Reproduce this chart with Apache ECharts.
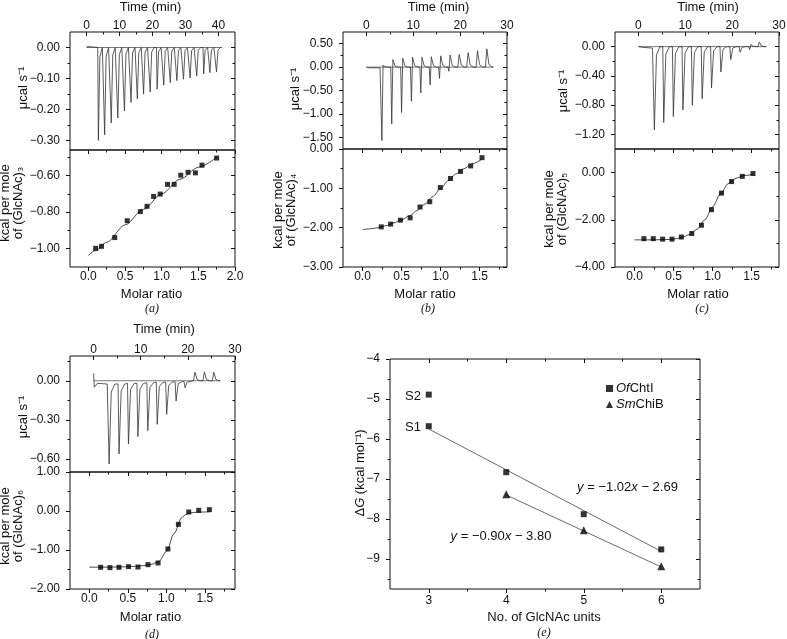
<!DOCTYPE html>
<html><head><meta charset="utf-8">
<script src="https://cdn.jsdelivr.net/npm/echarts@6/dist/echarts.min.js"></script>
<style>html,body{margin:0;padding:0;background:#fff}#c{width:787px;height:639px}</style>
</head><body><div id="c"></div>
<script>
// ================= DATA =================
// (a) (GlcNAc)3 : raw heat-flow injections
const aInjTime = [3.4,5.3,7.3,9.3,11.3,13.3,15.2,17.1,19.1,21.2,23.2,25.2,27.2,29.2,31.2,33.2,35.3,37.2,39.2];
const aInjPeak = [-0.299,-0.281,-0.243,-0.227,-0.204,-0.177,-0.165,-0.150,-0.143,-0.134,-0.121,-0.113,-0.107,-0.102,-0.098,-0.092,-0.085,-0.081,-0.079];
const aTraceStart = [[0,0.002],[0.4,-0.002],[0.8,0.003],[1.2,-0.001],[1.6,0.002],[2.0,-0.001],[2.6,0.001]];
const aTraceEnd = 41;
// (a) integrated heats
const aRatio = [0.10,0.18,0.36,0.53,0.71,0.80,0.89,0.98,1.08,1.17,1.26,1.36,1.46,1.55,1.75];
const aHeat  = [-0.998,-0.987,-0.939,-0.847,-0.797,-0.768,-0.714,-0.701,-0.648,-0.648,-0.598,-0.582,-0.585,-0.543,-0.504];
const aFitRatio = [0.0,0.1,0.25,0.5,0.75,1.0,1.25,1.5,1.75];
const aFitHeat  = [-1.037,-1.01,-0.965,-0.87,-0.785,-0.70,-0.62,-0.555,-0.50];

// (b) (GlcNAc)4
const bInjTime = [3.1,5.2,7.3,9.4,11.4,13.4,15.4,17.4,19.5,21.4,23.4,25.4];
const bInjDown = [-1.57,-1.21,-0.97,-0.73,-0.55,-0.38,-0.24,-0.09,0,0,0,0];
const bInjUp   = [0.04,0.16,0.19,0.21,0.21,0.22,0.24,0.26,0.27,0.31,0.35,0.39];
const bTraceStart = [[0,0],[0.6,-0.015],[2.9,-0.015]];
const bTraceEnd = 27.1;
const bRatio = [0.24,0.36,0.485,0.61,0.736,0.861,0.996,1.126,1.255,1.385,1.53];
const bHeat  = [-1.98,-1.91,-1.81,-1.75,-1.475,-1.34,-0.98,-0.75,-0.57,-0.43,-0.22];
const bFitRatio = [0.0,0.1,0.2,0.3,0.4,0.5,0.6,0.7,0.8,0.9,1.0,1.1,1.2,1.3,1.4,1.52];
const bFitHeat  = [-2.05,-2.03,-2.00,-1.95,-1.88,-1.80,-1.70,-1.56,-1.40,-1.21,-1.00,-0.80,-0.63,-0.50,-0.38,-0.27];

// (c) (GlcNAc)5
const cInjTime = [3.2,5.2,7.25,9.3,11.3,13.4,15.4,17.4,19.5,21.5,23.55,25.5];
const cInjDown = [-1.138,-1.038,-0.955,-0.864,-0.80,-0.713,-0.567,-0.347,-0.178,-0.078,-0.04,0];
const cInjUp   = [0,0,0,0,0,0,0,0,0,0,0.03,0.064];
const cTraceStart = [[0,0],[1.0,-0.01],[3.0,-0.02]];
const cTraceEnd = 27.3;
const cRatio = [0.12,0.24,0.36,0.48,0.60,0.733,0.857,0.986,1.114,1.243,1.38,1.517];
const cHeat  = [-2.80,-2.80,-2.82,-2.82,-2.73,-2.58,-2.23,-1.57,-0.87,-0.38,-0.16,-0.04];
const cFitRatio = [0.0,0.2,0.4,0.5,0.6,0.7,0.8,0.9,1.0,1.1,1.2,1.3,1.4,1.52];
const cFitHeat  = [-2.85,-2.85,-2.84,-2.82,-2.76,-2.63,-2.40,-2.00,-1.45,-0.90,-0.47,-0.24,-0.13,-0.07];

// (d) (GlcNAc)6
const dInjTime = [3.1,5.2,7.2,9.2,11.3,13.3,15.3,17.3,19.2,21.2,23.2,25.2];
const dInjDown = [-0.638,-0.562,-0.485,-0.429,-0.383,-0.334,-0.258,-0.156,-0.054,0,0,0];
const dInjUp   = [0,0,0,0,0,0,0,0,0,0.066,0.066,0.066];
const dBaseLevel = [-0.025,-0.025,-0.02,-0.02,-0.015,-0.012,-0.01,-0.008,-0.005,0,0,0];
const dTraceStart = [[0,0.056],[0.15,-0.05],[0.8,-0.02],[2.9,-0.025]];
const dTraceEnd = 26.9;
const dRatio = [0.147,0.268,0.385,0.51,0.632,0.762,0.892,1.02,1.156,1.29,1.42,1.558];
const dHeat  = [-1.444,-1.453,-1.444,-1.427,-1.436,-1.376,-1.333,-0.974,-0.342,-0.026,0.017,0.034];
const dFitRatio = [0.0,0.2,0.4,0.6,0.7,0.8,0.9,1.0,1.1,1.2,1.25,1.3,1.4,1.56];
const dFitHeat  = [-1.44,-1.44,-1.435,-1.42,-1.40,-1.37,-1.30,-1.04,-0.58,-0.17,-0.09,-0.05,-0.03,-0.02];

// (e) free energy vs chain length
const eUnitsOf = [3,3,4,5,6];
const eDeltaGOf = [-4.89,-5.68,-6.83,-7.88,-8.76];
const eUnitsSm = [4,5,6];
const eDeltaGSm = [-7.38,-8.28,-9.18];
const eFitOfX = [3,6], eFitOfY = [-5.75,-8.81];   // y = -1.02x - 2.69
const eFitSmX = [4,6], eFitSmY = [-7.40,-9.20];   // y = -0.90x - 3.80

// ================= TICKS =================
const timeTicksA = [0,10,20,30,40], timeMinorA = [5,15,25,35];
const timeTicks = [0,10,20,30], timeMinor = [5,15,25];
const ratioTicksA = [0,0.5,1.0,1.5,2.0], ratioMinorA = [0.25,0.75,1.25,1.75];
const ratioTicks = [0,0.5,1.0,1.5], ratioMinor = [0.25,0.75,1.25,1.75];
const aRawTicks = [0,-0.1,-0.2,-0.3], aRawMinor = [-0.05,-0.15,-0.25];
const aIntTicks = [-1.0,-0.8,-0.6], aIntMinor = [-0.9,-0.7,-0.5];
const bRawTicks = [0.5,0,-0.5,-1.0,-1.5], bRawMinor = [0.25,-0.25,-0.75,-1.25];
const bIntTicks = [0,-1,-2,-3], bIntMinor = [-0.5,-1.5,-2.5];
const cRawTicks = [0,-0.4,-0.8,-1.2], cRawMinor = [-0.2,-0.6,-1.0];
const cIntTicks = [0,-2,-4], cIntMinor = [-1,-3];
const dRawTicks = [0,-0.3,-0.6], dRawMinor = [0.15,-0.15,-0.45];
const dIntTicks = [1,0,-1,-2], dIntMinor = [0.5,-0.5,-1.5];
const eXTicks = [3,4,5,6], eXMinor = [3.5,4.5,5.5];
const eYTicks = [-4,-5,-6,-7,-8,-9], eYMinor = [-4.5,-5.5,-6.5,-7.5,-8.5,-9.5];

// ================= BUILD =================
const FONT = 'Liberation Sans, Arial, Helvetica, sans-serif';
const SERIF = 'Liberation Serif, Times New Roman, serif';
const INK = '#111';
function fmt(d){ return v => { if (Math.abs(v) < 1e-9) v = 0; return v.toFixed(d).replace('-', '\u2212'); }; }
function zip(xs, ys){ return xs.map((x,i)=>[x, ys[i]]); }
function buildTrace(start, times, down, up, base, end){
  const pts = start.map(p=>p.slice());
  let b = 0;
  for (let i=0;i<times.length;i++){
    const t = times[i]; b = base ? base[i] : 0;
    const d = down[i], u = up ? up[i] : 0;
    pts.push([t,b]);
    if (d && u) pts.push([t+0.2,d],[t+0.45,u],[t+0.9,b+0.15*u],[t+1.5,b]);
    else if (d) pts.push([t+0.2,d],[t+0.65,b+0.1*(d-b)],[t+1.4,b]);
    else if (u) pts.push([t+0.3,u],[t+0.75,b+0.15*u],[t+1.4,b]);
  }
  pts.push([end,b]);
  return pts;
}

const gridBoxes = [
  {left:70, top:32, width:165, height:118},
  {left:70, top:150, width:165, height:117},
  {left:343, top:32, width:164, height:117},
  {left:343, top:149, width:164, height:118},
  {left:615, top:32, width:164, height:117},
  {left:615, top:149, width:164, height:118},
  {left:70, top:356, width:165, height:116},
  {left:70, top:472, width:165, height:117},
  {left:390, top:359, width:310, height:230}
];
const grids = gridBoxes.map(b => Object.assign({show:true, borderColor:'#111', borderWidth:1, backgroundColor:'transparent', containLabel:false, outerBoundsMode:'none'}, b));

const xAxes = [], yAxes = [];
function ax(g, pos, min, max, ticks, inside, len, labelFmt, margin){
  return {
    type:'value', gridIndex:g, position:pos, min:min, max:max, silent:true,
    axisLine:{show:false, onZero:false},
    splitLine:{show:false}, minorTick:{show:false}, minorSplitLine:{show:false},
    axisTick:{show:true, inside:inside, length:len, customValues:ticks, lineStyle:{color:INK, width:1}},
    axisLabel: labelFmt ? {show:true, customValues:ticks, formatter:labelFmt, margin:margin, fontSize:12, fontFamily:FONT, color:INK} : {show:false}
  };
}
function addPanel(g, xs, ys, xPos, mirrorX, xMargin){
  const xi = xAxes.length;
  const xInside = xPos === 'top';
  xAxes.push(ax(g, xPos, xs.min, xs.max, xs.major, xInside, 4, xs.fmt, xMargin));
  xAxes.push(ax(g, xPos, xs.min, xs.max, xs.minor, xInside, 2.5, null, 0));
  if (mirrorX){
    xAxes.push(ax(g, 'top', xs.min, xs.max, xs.major, true, 4, null, 0));
    xAxes.push(ax(g, 'top', xs.min, xs.max, xs.minor, true, 2.5, null, 0));
  }
  const yi = yAxes.length;
  yAxes.push(ax(g, 'left', ys.min, ys.max, ys.major, false, 4, ys.fmt, 10));
  yAxes.push(ax(g, 'left', ys.min, ys.max, ys.minor, false, 2.5, null, 0));
  yAxes.push(ax(g, 'right', ys.min, ys.max, ys.major, true, 4, null, 0));
  yAxes.push(ax(g, 'right', ys.min, ys.max, ys.minor, true, 2.5, null, 0));
  return {xi, yi};
}

const P = [];
P[0] = addPanel(0, {min:-5,max:45,major:timeTicksA,minor:timeMinorA,fmt:fmt(0)}, {min:-0.33,max:0.05,major:aRawTicks,minor:aRawMinor,fmt:fmt(2)}, 'top', false, 0);
P[1] = addPanel(1, {min:-0.25,max:2.0,major:ratioTicksA,minor:ratioMinorA,fmt:fmt(1)}, {min:-1.10,max:-0.46,major:aIntTicks,minor:aIntMinor,fmt:fmt(2)}, 'bottom', true, 4);
P[2] = addPanel(2, {min:-5,max:30,major:timeTicks,minor:timeMinor,fmt:fmt(0)}, {min:-1.75,max:0.75,major:bRawTicks,minor:bRawMinor,fmt:fmt(2)}, 'top', false, 0);
P[3] = addPanel(3, {min:-0.25,max:1.85,major:ratioTicks,minor:ratioMinor,fmt:fmt(1)}, {min:-3,max:0,major:bIntTicks,minor:bIntMinor,fmt:fmt(2)}, 'bottom', true, 4);
P[4] = addPanel(4, {min:-5,max:30,major:timeTicks,minor:timeMinor,fmt:fmt(0)}, {min:-1.40,max:0.20,major:cRawTicks,minor:cRawMinor,fmt:fmt(2)}, 'top', false, 0);
P[5] = addPanel(5, {min:-0.25,max:1.85,major:ratioTicks,minor:ratioMinor,fmt:fmt(1)}, {min:-4,max:1,major:cIntTicks,minor:cIntMinor,fmt:fmt(2)}, 'bottom', true, 4);
P[6] = addPanel(6, {min:-5,max:30,major:timeTicks,minor:timeMinor,fmt:fmt(0)}, {min:-0.70,max:0.19,major:dRawTicks,minor:dRawMinor,fmt:fmt(2)}, 'top', false, 0);
P[7] = addPanel(7, {min:-0.25,max:1.89,major:ratioTicks,minor:ratioMinor,fmt:fmt(1)}, {min:-2,max:1,major:dIntTicks,minor:dIntMinor,fmt:fmt(2)}, 'bottom', true, 4);
P[8] = addPanel(8, {min:2.5,max:6.5,major:eXTicks,minor:eXMinor,fmt:fmt(0)}, {min:-9.75,max:-4,major:eYTicks,minor:eYMinor,fmt:fmt(0)}, 'bottom', true, 6);

function traceSeries(p, data){
  return {type:'line', xAxisIndex:P[p].xi, yAxisIndex:P[p].yi, data:data, symbol:'none', showSymbol:false,
    lineStyle:{color:'#333', width:0.8}, silent:true, z:2};
}
function baseSeries(p, end){
  return {type:'line', xAxisIndex:P[p].xi, yAxisIndex:P[p].yi, data:[[0,0],[end,0]], symbol:'none',
    lineStyle:{color:'#555', width:0.8}, silent:true, z:1};
}
function fitSeries(p, xs, ys, name){
  return {type:'line', name:name, xAxisIndex:P[p].xi, yAxisIndex:P[p].yi, data:zip(xs,ys), symbol:'none', showSymbol:false,
    smooth:0.3, smoothMonotone:'x', lineStyle:{color:'#333', width:0.9}, silent:true, z:2};
}
function pointSeries(p, xs, ys, name, symbol, size){
  return {type:'scatter', name:name, xAxisIndex:P[p].xi, yAxisIndex:P[p].yi, data:zip(xs,ys), symbol:symbol, symbolSize:size,
    itemStyle:{color:'#000'}, silent:true, z:5};
}

const series = [
  baseSeries(0, aTraceEnd),
  traceSeries(0, buildTrace(aTraceStart, aInjTime, aInjPeak, null, null, aTraceEnd)),
  fitSeries(1, aFitRatio, aFitHeat),
  pointSeries(1, aRatio, aHeat, 'a', 'rect', 5),
  baseSeries(2, bTraceEnd),
  traceSeries(2, buildTrace(bTraceStart, bInjTime, bInjDown, bInjUp, null, bTraceEnd)),
  fitSeries(3, bFitRatio, bFitHeat),
  pointSeries(3, bRatio, bHeat, 'b', 'rect', 5),
  baseSeries(4, cTraceEnd),
  traceSeries(4, buildTrace(cTraceStart, cInjTime, cInjDown, cInjUp, null, cTraceEnd)),
  fitSeries(5, cFitRatio, cFitHeat),
  pointSeries(5, cRatio, cHeat, 'c', 'rect', 5),
  baseSeries(6, dTraceEnd),
  traceSeries(6, buildTrace(dTraceStart, dInjTime, dInjDown, dInjUp, dBaseLevel, dTraceEnd)),
  fitSeries(7, dFitRatio, dFitHeat),
  pointSeries(7, dRatio, dHeat, 'd', 'rect', 5),
  {type:'line', xAxisIndex:P[8].xi, yAxisIndex:P[8].yi, data:zip(eFitOfX,eFitOfY), symbol:'none', lineStyle:{color:'#444',width:0.8}, silent:true, z:2},
  {type:'line', xAxisIndex:P[8].xi, yAxisIndex:P[8].yi, data:zip(eFitSmX,eFitSmY), symbol:'none', lineStyle:{color:'#444',width:0.8}, silent:true, z:2},
  pointSeries(8, eUnitsOf, eDeltaGOf, 'OfChtI', 'rect', 6),
  pointSeries(8, eUnitsSm, eDeltaGSm, 'SmChiB', 'triangle', 8)
];

function txt(x, y, text, size, opts){
  opts = opts || {};
  const rich = {
    i:{fontStyle:'italic', fontSize:size, fontFamily:opts.family||FONT, fill:INK, lineHeight:opts.lh},
    n:{fontSize:size, fontFamily:opts.family||FONT, fill:INK, lineHeight:opts.lh}
  };
  return {type:'text', x:x, y:y, rotation:opts.rot||0, silent:true, z:10,
    style:{text:text, fontSize:size, fontFamily:opts.family||FONT, fontStyle:opts.italic?'italic':'normal', fill:INK,
      align:'center', verticalAlign:'middle', textAlign:'center', textVerticalAlign:'middle', lineHeight:opts.lh, rich:rich}};
}
const R = Math.PI/2;
const graphics = [
  txt(150.5, 7, 'Time (min)', 13), txt(438.5, 7, 'Time (min)', 13), txt(708, 7, 'Time (min)', 13), txt(164, 329, 'Time (min)', 13),
  txt(151.5, 294, 'Molar ratio', 13), txt(425, 294, 'Molar ratio', 13), txt(698, 294, 'Molar ratio', 13), txt(150.5, 617, 'Molar ratio', 13),
  txt(152, 309, '(a)', 12, {family:SERIF, italic:true}), txt(428, 309, '(b)', 12, {family:SERIF, italic:true}),
  txt(702, 309, '(c)', 12, {family:SERIF, italic:true}), txt(152, 635, '(d)', 12, {family:SERIF, italic:true}),
  txt(544, 633, '(e)', 12, {family:SERIF, italic:true}),
  txt(23, 88, '\u03bccal s\u207b\u00b9', 13, {rot:R}), txt(295, 89, '\u03bccal s\u207b\u00b9', 13, {rot:R}),
  txt(563, 91, '\u03bccal s\u207b\u00b9', 13, {rot:R}), txt(23, 417, '\u03bccal s\u207b\u00b9', 13, {rot:R}),
  txt(12, 203, 'kcal per mole\nof (GlcNAc)\u2083', 13, {rot:R, lh:13}),
  txt(285, 210, 'kcal per mole\nof (GlcNAc)\u2084', 13, {rot:R, lh:13}),
  txt(556, 209, 'kcal per mole\nof (GlcNAc)\u2085', 13, {rot:R, lh:13}),
  txt(12, 526, 'kcal per mole\nof (GlcNAc)\u2086', 13, {rot:R, lh:13}),
  txt(360, 473, '{n|\u0394}{i|G}{n| (kcal mol\u207b\u00b9)}', 13, {rot:R}),
  txt(544, 617, 'No. of GlcNAc units', 13),
  txt(413, 396, 'S2', 13), txt(413, 427, 'S1', 13),
  txt(627.5, 487, '{i|y}{n| = \u22121.02}{i|x}{n| \u2212 2.69}', 13),
  txt(501, 536, '{i|y}{n| = \u22120.90}{i|x}{n| \u2212 3.80}', 13)
];

const chart = echarts.init(document.getElementById('c'), null, {renderer:'canvas'});
chart.setOption({
  animation:false,
  backgroundColor:'#fff',
  textStyle:{fontFamily:FONT},
  grid:grids, xAxis:xAxes, yAxis:yAxes, series:series,
  legend:{data:['OfChtI','SmChiB'], orient:'vertical', left:606, top:382, itemWidth:7, itemHeight:7, itemGap:3,
    selectedMode:false, padding:0,
    formatter: n => n==='OfChtI' ? '{i|Of}{n|ChtI}' : '{i|Sm}{n|ChiB}',
    textStyle:{fontSize:13, color:INK, fontFamily:FONT, padding:[0,0,0,-2],
      rich:{i:{fontStyle:'italic', fontSize:13, color:INK, fontFamily:FONT}, n:{fontSize:13, color:INK, fontFamily:FONT}}}},
  graphic:graphics
});
</script></body></html>
